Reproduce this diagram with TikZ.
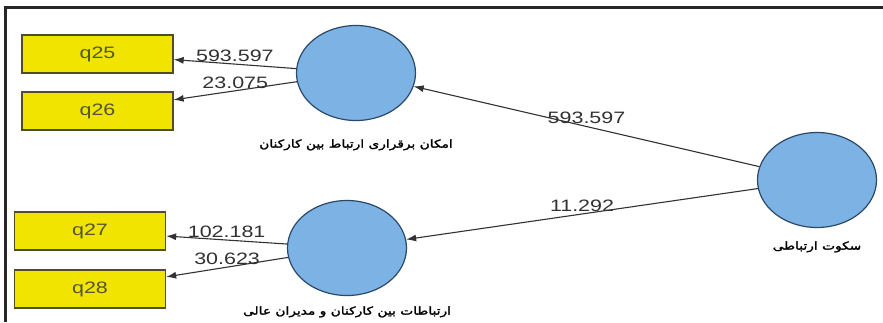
\documentclass[tikz,border=0pt]{standalone}
\usepackage{fontspec}
\setmainfont[FakeStretch=1.3]{Liberation Sans}
\newfontfamily\farsi[Script=Arabic,FakeStretch=1.25,FakeBold=2]{DejaVu Sans}
\TeXXeTstate=1
\usepackage{tikz}
\usetikzlibrary{arrows.meta}
\definecolor{itemfill}{RGB}{240,228,0}
\definecolor{itemdraw}{RGB}{80,78,40}
\definecolor{itemtext}{RGB}{85,85,40}
\definecolor{latfill}{RGB}{124,179,228}
\definecolor{latdraw}{RGB}{44,72,104}
\definecolor{edgecol}{RGB}{50,50,50}
\tikzstyle{every node}=[font=\fontsize{16.5}{18}\selectfont]
\tikzstyle{item}=[draw=itemdraw,fill=itemfill,line width=1.3pt,minimum width=151pt,minimum height=38pt,inner sep=0pt,text=itemtext]
\tikzstyle{latent}=[ellipse,draw=latdraw,fill=latfill,line width=1.2pt,minimum width=119pt,minimum height=95pt,inner sep=0pt]
\tikzstyle{weight}=[midway,above,text=edgecol,inner sep=2pt]
\tikzstyle{latname}=[anchor=north,font=\fontsize{11}{12}\selectfont\farsi,inner sep=0pt]
\usetikzlibrary{shapes.geometric}

\begin{document}
\begin{tikzpicture}[x=1pt,y=-1pt,>={Latex[length=10pt,width=7pt]}]
        \useasboundingbox (0,0) rectangle (883,322);
        \fill [white] (0,0) rectangle (883,322);
        \draw [line width=3pt,color=black!85] (5,322) -- (5,7) -- (883,7);

        \node [item] (q25) at (97.5,54) {q25};
        \node [item] (q26) at (97.5,111) {q26};
        \node [item] (q27) at (90,231) {q27};
        \node [item] (q28) at (90,289) {q28};

        \node [latent] (amkan) at (356,73) {};
        \node [latent] (ertebat) at (347,248) {};
        \node [latent] (sokut) at (817,180) {};

        \node [latname] at ([yshift=-18pt]amkan.south) {\beginR امکان برقراری ارتباط بین کارکنان\endR};
        \node [latname] at ([yshift=-10pt]ertebat.south) {\beginR ارتباطات بین کارکنان و مدیران عالی\endR};
        \node [latname] at ([yshift=-13pt]sokut.south) {\beginR سکوت ارتباطی\endR};

        \draw [->,edgecol,line width=1.1pt] (amkan) -- node [weight] {593.597} (q25);
        \draw [->,edgecol,line width=1.1pt] (amkan) -- node [weight] {23.075} (q26);
        \draw [->,edgecol,line width=1.1pt] (ertebat) -- node [weight] {102.181} (q27);
        \draw [->,edgecol,line width=1.1pt] (ertebat) -- node [weight] {30.623} (q28);
        \draw [->,edgecol,line width=1.1pt] (sokut) -- node [weight] {593.597} (amkan);
        \draw [->,edgecol,line width=1.1pt] (sokut) -- node [weight] {11.292} (ertebat);
    \end{tikzpicture}
\end{document}
